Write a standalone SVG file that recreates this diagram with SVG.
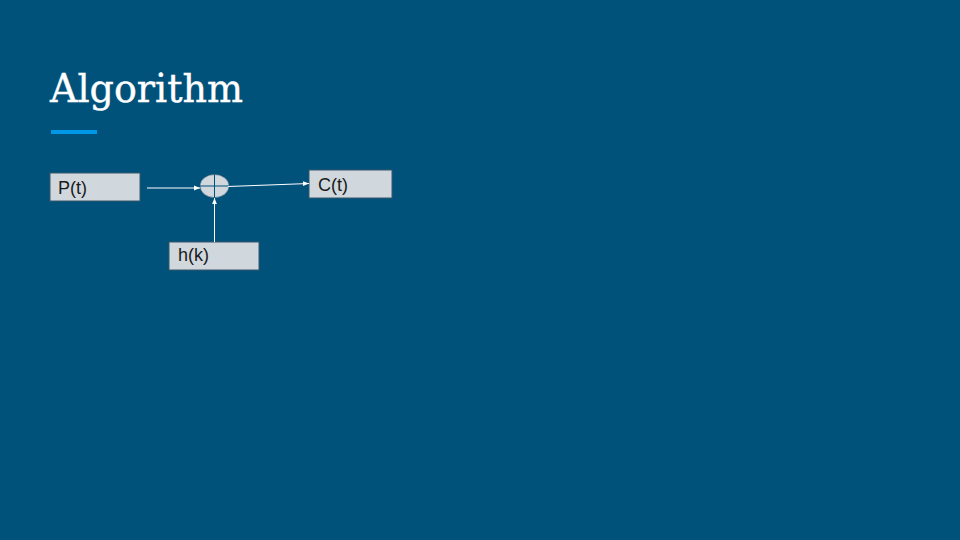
<svg xmlns="http://www.w3.org/2000/svg" width="960" height="540" viewBox="0 0 960 540">
<defs>
<marker id="ah" viewBox="0 0 10 10" refX="10" refY="5" markerWidth="6" markerHeight="6" orient="auto" markerUnits="userSpaceOnUse">
<path d="M0,1 L10,5 L0,9 Z" fill="#ffffff"/>
</marker>
</defs>
<style>
.box{fill:#d0d8de;stroke:#3b5668;stroke-width:1}
.lbl{font-family:"Liberation Sans",Arial,sans-serif;font-size:18px;fill:#1a1a1a}
.conn{stroke:#ffffff;stroke-width:1;fill:none;marker-end:url(#ah)}
</style>
<rect x="0" y="0" width="960" height="540" fill="#01527b"/>
<text x="50" y="102" font-family="'DejaVu Serif','Liberation Serif',serif" font-size="40" fill="#ffffff" stroke="#ffffff" stroke-width="0.4" textLength="193" lengthAdjust="spacingAndGlyphs">Algorithm</text>
<rect x="51" y="130" width="46" height="4" fill="#0097e6"/>
<g id="node-p">
<rect class="box" x="50" y="173" width="90" height="28"/>
<text class="lbl" x="58" y="194">P(t)</text>
</g>
<g id="node-c">
<rect class="box" x="309" y="170" width="83" height="28"/>
<text class="lbl" x="318" y="191">C(t)</text>
</g>
<g id="node-h">
<rect class="box" x="169" y="242" width="90" height="28"/>
<text class="lbl" x="178" y="261">h(k)</text>
</g>
<g id="node-sum">
<ellipse cx="214.5" cy="186" rx="14.5" ry="11.5" fill="#d0d8de" stroke="#3b5668" stroke-width="0.5"/>
<line x1="214.5" y1="174.5" x2="214.5" y2="197.5" stroke="#01527b" stroke-width="1"/>
<line x1="200" y1="186" x2="229" y2="186" stroke="#01527b" stroke-width="1"/>
</g>
<g id="connectors">
<line class="conn" x1="147" y1="188" x2="200" y2="188"/>
<line class="conn" x1="228" y1="186.5" x2="309" y2="183.5"/>
<line class="conn" x1="214.5" y1="242" x2="214.5" y2="198"/>
</g>
</svg>
